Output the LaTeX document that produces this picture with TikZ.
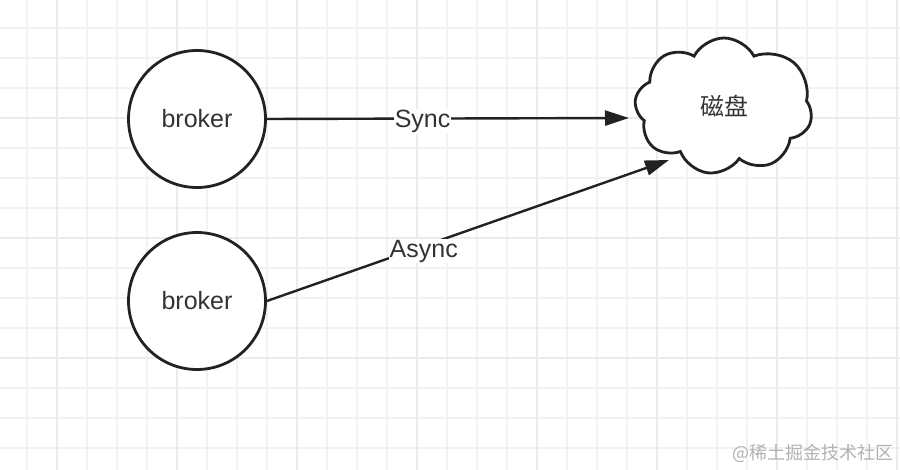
\documentclass[tikz,border=0pt]{standalone}
\usepackage{fontspec}
\setmainfont{Liberation Sans}
\newfontfamily\cjkfont{Noto Sans CJK SC}
\usetikzlibrary{arrows.meta,shapes.symbols}
\definecolor{gridminor}{HTML}{F2F2F2}
\definecolor{gridmajor}{HTML}{EBEBEB}
\definecolor{inkdark}{HTML}{222222}
\definecolor{textdark}{HTML}{333333}
\definecolor{markgray}{HTML}{B2B2B2}

\begin{document}
\begin{tikzpicture}[
    x=1pt, y=-1pt,
    brokernode/.style={circle, draw=inkdark, line width=2.8pt, minimum size=137pt, inner sep=0pt, text=textdark, font=\fontsize{25}{30}\selectfont, fill=white},
    disknode/.style={cloud, cloud puffs=8.5, cloud puff arc=125, aspect=1.35, draw=inkdark, line width=2.8pt, minimum width=178pt, minimum height=136pt, inner sep=0pt, fill=white, text=textdark, font=\cjkfont\fontsize{24}{28}\selectfont},
    flow/.style={draw=inkdark, line width=2.4pt, -{Triangle[length=24pt,width=15pt]}},
    flowlabel/.style={fill=white, inner sep=1pt, text=textdark, font=\fontsize{25}{30}\selectfont}
]
\useasboundingbox (0,0) rectangle (900,470);
\fill[white] (0,0) rectangle (900,470);
% grid
\foreach \gx in {27,57,...,897}
    \draw[gridminor, line width=1.4pt] (\gx,0) -- (\gx,470);
\foreach \gy in {28,58,...,448}
    \draw[gridminor, line width=1.4pt] (0,\gy) -- (900,\gy);
\foreach \gx in {57,177,...,897}
    \draw[gridmajor, line width=1.4pt] (\gx,0) -- (\gx,470);
\foreach \gy in {118,238,358}
    \draw[gridmajor, line width=1.4pt] (0,\gy) -- (900,\gy);

% nodes
\node[brokernode] (top) at (197,119) {broker};
\node[brokernode] (bottom) at (197,301) {broker};
\node[disknode] (disk) at (724,106) {磁盘};
\node[font=\cjkfont\fontsize{18}{22}\selectfont, text=markgray, anchor=east] (mark) at (897,453) {@稀土掘金技术社区};

% arrows
\coordinate (syncend) at (629,118);
\coordinate (asyncend) at (669,160);
\draw[flow] (top.east) -- node[flowlabel, pos=0.43, yshift=-3pt] {Sync} (syncend);
\draw[flow] (bottom.east) -- node[flowlabel, pos=0.39, yshift=-5pt] {Async} (asyncend);
\end{tikzpicture}
\end{document}
